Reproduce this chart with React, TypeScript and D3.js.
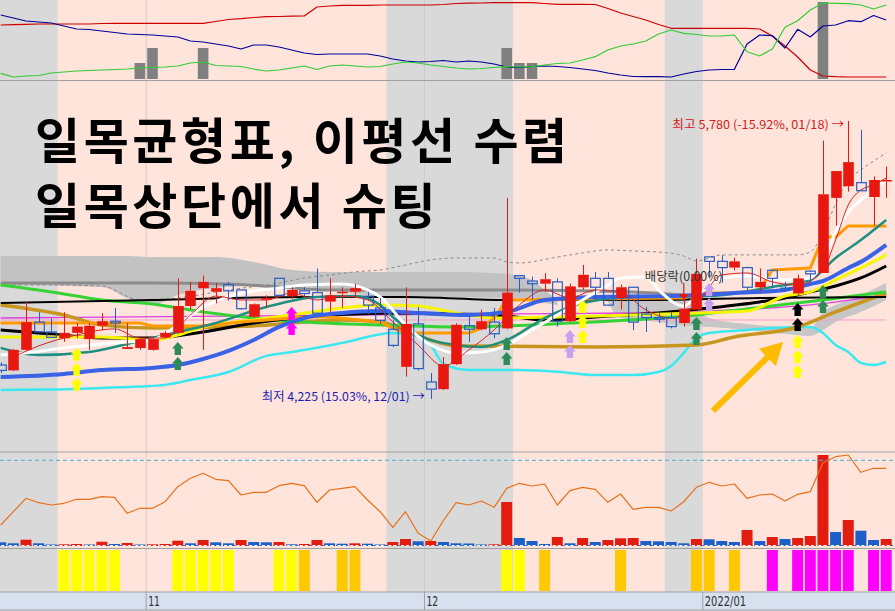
import React, { useEffect } from 'react';
import * as d3 from 'd3';

// ---------- data ----------
const monthLabels: [number, string][] = [[12, '11'], [34, '12'], [56, '2022/01']];
const shadeRanges: [number, number][] = [[0, 4], [31, 40], [53, 55]];

const opens = [4415,4385,4500,4655,4600,4565,4595,4560,4635,4660,4505,4510,4500,4570,4595,4745,4845,4825,4865,4835,4685,4780,4900,4800,4830,4820,4770,4820,4825,4800,4735,4615,4405,4645,4320,4280,4420,4635,4615,4655,4620,4915,4885,4870,4880,4660,4850,4900,4900,4790,4850,4700,4680,4680,4650,4725,5020,4995,4960,4960,4850,4945,4845,4815,4940,4930,5350,5415,5435,5355,5445];
const highs = [4430,4505,4770,4710,4675,4710,4650,4650,4705,4735,4650,4570,4565,4605,4900,4880,4915,4875,4880,4835,4760,4805,4900,4850,4850,4955,4900,4850,4870,4825,4790,4665,4850,4740,4370,4460,4650,4685,4725,4735,5350,4915,4910,4930,4900,4870,4975,4935,4935,4865,4850,4740,4705,4710,4795,5010,5020,5030,5015,4965,4955,4945,4880,4920,4945,5670,5500,5780,5730,5470,5525];
const lows = [4370,4380,4495,4600,4570,4545,4565,4500,4610,4595,4505,4500,4495,4565,4590,4725,4500,4760,4775,4725,4680,4735,4800,4785,4800,4700,4710,4735,4795,4700,4645,4515,4350,4385,4225,4275,4415,4545,4610,4565,4615,4820,4780,4825,4630,4655,4835,4780,4745,4725,4610,4600,4650,4620,4630,4725,4900,4875,4945,4835,4825,4845,4835,4805,4875,4930,5195,5385,5390,5195,5350];
const closes = [4385,4500,4655,4600,4570,4595,4630,4635,4660,4650,4515,4560,4560,4595,4745,4830,4880,4845,4830,4730,4755,4790,4805,4835,4815,4705,4805,4825,4845,4750,4665,4525,4645,4395,4280,4420,4640,4615,4660,4590,4820,4900,4870,4895,4660,4855,4920,4850,4750,4850,4655,4680,4675,4630,4730,4925,4995,4960,4995,4850,4880,4900,4840,4900,4925,5370,5500,5550,5390,5450,5450];

// volume (10k shares)
const volumes = [37,27,63,27,7,17,20,7,43,20,30,7,17,20,53,27,60,37,27,60,40,37,40,17,20,60,27,23,27,23,13,40,70,47,50,40,27,25,7,17,440,80,50,20,90,27,80,40,60,77,80,50,47,40,27,70,67,50,40,160,50,90,70,80,100,910,140,260,153,60,70];
// volume ratio indicator
const volRatio = [21,34.3,47.7,43.3,41,42.7,46.7,46.7,49.3,48.7,32.7,37.7,37.7,44.3,59.3,67.7,72.7,66.7,65.3,51,53.7,53.7,60.3,62.7,60.3,43.7,56,57.7,59.3,46,34.3,18.7,34.3,12.7,5,25.5,43.3,41,45,38.7,57.7,62.7,60,62,41,55.3,58.7,56.7,43.7,52,36.7,38.7,38.7,35,44.3,58.7,63.7,60,62,47.7,51,52,45,51.7,54.3,83.3,89.3,91,73.7,77.7,77.7];
const ratioLevel = 85.7;

// top indicator panel
const topRed = [55,55.3,55.7,56,56,56,56,56,56.5,56.7,56.7,56.7,56.7,56.7,56.7,56.7,56.7,58.5,60.5,61.3,62.5,63.3,63.5,63.8,64,73,74,74.7,74.7,74.7,75,75,75,75,75,75.5,76.5,76.8,77,77.3,77.3,77.3,77.3,76.5,75.7,75.7,75.7,75.5,71.5,67,63.5,60,55.5,51.7,51.7,51.7,51.7,51.7,51.7,51.7,51,44,34,23,10,4,3.3,3,3,3,3];
const topBlue = [65,62,59,58,57,54,51,50.5,49,47.5,46,45.5,45,44,43,39,38,36,34,31,35,35,33,30,27,25.5,26,26,26,26,24,21,19,18,18.5,19.5,18,19,18,16,13,12.5,13.5,14,13.5,12.5,11,9.5,7,5,3.5,3.3,3.3,3,6,8.5,10,10.5,10.7,36,45,44.3,32,50.7,43,54,55,59.3,58.3,64.5,60];
const topGreen = [6.7,3,4,4.5,7,8,9,9.5,10,10.5,11,12,12.5,13,14,17,18,14.5,14,13.5,11,9,10,12,14,10.5,14,15,14,13,13.5,16,18,17,15,13.5,12,11,11.5,12.5,13.3,13,13.3,15,16.5,17,20,23.3,30,34,36,39,46,50,46.7,45.5,44,44,45,28.3,24,31,52.7,59.3,70,77,76.7,76.3,75,71,75];
const topBars: [number, number][] = [[11,17],[12,32],[16,32],[40,32],[41,17],[42,17],[65,78]];

// signal panel
const signalYellow = [5,6,7,8,9,14,15,16,17,18,22,23,40,41];
const signalGold = [24,27,28,43,49,55,56,58];
const signalMagenta = [61,63,64,65,66,67,69,70];

// main panel lines [barIndex, price]
const bbUpper: [number, number][] = [[0,4863],[4,4863],[8,4857],[11,4779],[14,4790],[18,4835],[22,4874],[24,4902],[26,4919],[28,4936],[30,4947],[32,4975],[34,5003],[36,5014],[39,5014],[40,4992],[41,4986],[44,5019],[46,5042],[48,5059],[50,5053],[52,5047],[54,5025],[55,4997],[57,5031],[63,5031],[64,5047],[65,5154],[66,5316],[67,5450],[68,5506],[69,5556],[70,5601]];
const bbLower: [number, number][] = [[0,4276],[4,4278],[8,4287],[11,4295],[13,4304],[15,4331],[18,4376],[21,4466],[23,4488],[27,4539],[31,4594],[33,4578],[34,4527],[35,4421],[37,4387],[41,4387],[44,4378],[47,4359],[50,4359],[52,4376],[53,4410],[54,4483],[55,4566],[56,4594],[59,4611],[63,4628],[64,4628],[65,4594],[66,4527],[67,4488],[68,4427],[69,4415],[70,4432]];
const maBlue: [number, number][] = [[0,4348],[5,4365],[8,4387],[12,4399],[14,4415],[16,4449],[18,4494],[20,4555],[22,4628],[24,4678],[27,4706],[30,4717],[33,4706],[37,4695],[40,4712],[43,4779],[47,4796],[53,4801],[58,4818],[62,4835],[64,4868],[65,4885],[67,4958],[68,4992],[70,5087]];
const maYellow: [number, number][] = [[0,4572],[8,4572],[12,4555],[14,4583],[16,4628],[20,4667],[24,4706],[27,4734],[30,4751],[33,4745],[36,4706],[39,4678],[44,4684],[48,4690],[55,4706],[59,4717],[62,4801],[64,4824],[66,4891],[68,4958],[70,5031]];
const maBlack: [number, number][] = [[0,4611],[4,4589],[8,4566],[12,4566],[16,4600],[20,4650],[24,4684],[28,4701],[32,4706],[36,4701],[40,4690],[43,4667],[47,4684],[52,4706],[56,4734],[60,4768],[62,4790],[64,4824],[66,4857],[68,4902],[70,4969]];
const blackFlat: [number, number][] = [[0,4762],[12,4779],[24,4796],[32,4796],[40,4779],[50,4779],[60,4790],[70,4796]];
const grayLine: [number, number][] = [[0,4874],[12,4874],[18,4868],[22,4852],[26,4835],[40,4835],[50,4824],[54,4807]];
const tenkan: [number, number][] = [[0,4650],[11,4650],[12,4634],[16,4634],[19,4656],[21,4667],[24,4684],[26,4684],[30,4656],[31,4622],[32,4594],[37,4594],[38,4622],[39,4678],[40,4779],[53,4790],[54,4790],[55,4818],[58,4818],[60,4835],[61,4947],[64,4958],[65,5131],[66,5131],[67,5193],[70,5193]];
const kijun: [number, number][] = [[0,4751],[5,4695],[8,4639],[12,4622],[20,4634],[24,4656],[27,4667],[30,4656],[32,4611],[34,4555],[36,4522],[47,4516],[55,4527],[58,4572],[63,4628],[66,4712],[70,4818]];
const maGreen: [number, number][] = [[0,4863],[4,4824],[8,4779],[12,4757],[16,4712],[20,4678],[24,4656],[30,4639],[36,4628],[45,4650],[55,4695],[59,4729],[65,4779],[70,4824]];
const maTeal: [number, number][] = [[0,4511],[3,4471],[7,4488],[10,4533],[13,4583],[17,4650],[21,4740],[25,4796],[28,4801],[30,4751],[31,4684],[33,4583],[36,4527],[38,4516],[40,4555],[43,4678],[46,4762],[50,4796],[56,4801],[61,4852],[64,4891],[66,5014],[68,5114],[70,5226]];
const maWhite: [number, number][] = [[0,4471],[2,4483],[5,4511],[8,4533],[10,4544],[12,4555],[14,4639],[16,4740],[18,4796],[20,4829],[22,4846],[24,4863],[27,4868],[29,4835],[30,4796],[32,4639],[34,4527],[36,4483],[38,4488],[40,4527],[42,4611],[44,4695],[46,4779],[48,4863],[49,4902],[51,4908],[52,4835],[54,4745],[55,4801],[57,4902],[59,4913],[62,4891],[64,4902],[65,4997],[66,5159],[67,5271],[68,5338],[69,5394],[70,5450]];
const maRed: [number, number][] = [[1,4460],[3,4522],[6,4583],[9,4617],[11,4566],[13,4566],[15,4695],[17,4801],[19,4779],[21,4779],[23,4818],[25,4779],[27,4801],[29,4779],[31,4656],[33,4527],[35,4410],[37,4499],[39,4611],[41,4751],[43,4835],[45,4790],[47,4835],[49,4824],[51,4723],[53,4678],[55,4751],[57,4919],[59,4930],[61,4880],[63,4863],[65,4947],[66,5114],[67,5310],[68,5394],[69,5422],[70,5461]];
const magentaLine: [number, number][] = [[0,4678],[20,4690],[40,4701],[50,4706],[58,4723],[64,4751],[70,4807]];
const pinkLine: [number, number][] = [[0,4667],[70,4667]];
const cloudLeft: [number, number, number][] = [[0,5025,4863],[8,5025,4852],[10,5025,4790],[12,5019,4751],[14,5019,4807],[17,5019,4846],[20,4992,4857],[23,4947,4857],[26,4936,4835],[30,4936,4801],[36,4936,4796],[40,4925,4790],[42,4891,4779],[43,4835,4762],[44,4779,4751]];
const cloudRight: [number, number, number][] = [[48,4779,4768],[49,4813,4678],[52,4801,4656],[54,4779,4634],[56,4678,4628],[59,4645,4611],[62,4628,4589],[64,4622,4578],[65,4712,4611],[66,4751,4656],[68,4807,4712],[70,4874,4779]];

const signalArrows = [
  { i: 6, color: '#ffff00', n: 3, top: 4511 },
  { i: 14, color: '#2e8b57', n: 2, top: 4544 },
  { i: 23, color: '#ff00ff', n: 2, top: 4740 },
  { i: 40, color: '#2e8b57', n: 2, top: 4572 },
  { i: 45, color: '#c8a0f0', n: 2, top: 4611 },
  { i: 46, color: '#ffff00', n: 3, top: 4779 },
  { i: 55, color: '#2e8b57', n: 2, top: 4684 },
  { i: 56, color: '#c8a0f0', n: 2, top: 4874 },
  { i: 63, color: '#000000', n: 2, top: 4762 },
  { i: 63, color: '#ffff00', n: 3, top: 4583 },
  { i: 65, color: '#2e8b57', n: 2, top: 4863 },
];

const hiIdx = 67, loIdx = 34, divIdx = 54;
const hiLabel = '최고 5,780 (-15.92%, 01/18) →';
const loLabel = '최저 4,225 (15.03%, 12/01) →';
const divLabel = '배당락(0.00%)';
const title1 = '일목균형표, 이평선 수렴';
const title2 = '일목상단에서 슈팅';
const bigArrow = { from: [56.3, 4158], to: [61.85, 4544] };

// ---------- chart ----------
const W = 895, H = 611;
const PINK = '#fee4db', GRAY = '#d9d9d9', SEP = '#a0a0a0';
const RED = '#e8170f', BLUE = '#2a5cc4';
const KR = "'Noto Sans CJK KR', 'Noto Sans', sans-serif";

export default function App() {
  useEffect(() => { document.body.style.margin = '0'; }, []);
  const n = closes.length;
  const x = d3.scaleLinear().domain([0, n - 1]).range([0.7, 886.2]);
  const yTop = d3.scaleLinear().domain([0, 80]).range([80, 0]);
  const yMain = d3.scaleLinear().domain([4225, 5780]).range([399, 121]);
  const yVol = d3.scaleLinear().domain([0, 910]).range([546, 455]);
  const yRatio = d3.scaleLinear().domain([0, 94]).range([546, 452]);

  const topLine = d3.line<number>().x((_, i) => x(i)).y(d => yTop(d));
  const ratioLine = d3.line<number>().x((_, i) => x(i)).y(d => yRatio(d));
  const pLine = (curve: any) => d3.line<[number, number]>().x(d => x(d[0])).y(d => yMain(d[1])).curve(curve);
  const smooth = pLine(d3.curveMonotoneX);
  const straight = pLine(d3.curveLinear);
  const cloud = d3.area<[number, number, number]>().x(d => x(d[0])).y0(d => yMain(d[2])).y1(d => yMain(d[1])).curve(d3.curveMonotoneX);

  const bound = (i: number) => (x(i - 1) + x(i)) / 2;
  const half = 5.3;

  const arrowPath = (cx: number, top: number) =>
    `M${cx},${top} L${cx + 5.8},${top + 6.5} L${cx + 3.2},${top + 6.5} L${cx + 3.2},${top + 13} L${cx - 3.2},${top + 13} L${cx - 3.2},${top + 6.5} L${cx - 5.8},${top + 6.5} Z`;

  // big arrow geometry
  const bx0 = x(bigArrow.from[0]), by0 = yMain(bigArrow.from[1]);
  const bx1 = x(bigArrow.to[0]), by1 = yMain(bigArrow.to[1]);
  const len = Math.hypot(bx1 - bx0, by1 - by0);
  const ux = (bx1 - bx0) / len, uy = (by1 - by0) / len;
  const hl = 22, hw = 12;
  const bcx = bx1 - ux * hl, bcy = by1 - uy * hl;
  const head = `M${bx1},${by1} L${bcx - uy * hw},${bcy + ux * hw} L${bcx + uy * hw},${bcy - ux * hw} Z`;

  const lineStyle = (d: string, color: string, w: number, extra: any = {}) => (
    <path d={d} fill="none" stroke={color} strokeWidth={w} strokeLinejoin="round" {...extra} />
  );

  return (
    <svg width={W} height={H} style={{ position: 'absolute', left: 0, top: 0, display: 'block' }} xmlns="http://www.w3.org/2000/svg">
      <defs>
        <clipPath id="mainClip"><rect x={0} y={81} width={893} height={370} /></clipPath>
        <clipPath id="topClip"><rect x={0} y={0} width={893} height={80} /></clipPath>
      </defs>
      {/* backgrounds */}
      <rect x={0} y={0} width={W} height={592} fill={PINK} />
      {shadeRanges.map(([a, b], k) => (
        <rect key={k} x={Math.max(0, bound(a))} y={0} width={bound(b + 1) - Math.max(0, bound(a))} height={592} fill={GRAY} />
      ))}
      {/* month grid lines */}
      {monthLabels.slice(0, 2).map(([i], k) => (
        <line key={k} x1={bound(i)} x2={bound(i)} y1={0} y2={592} stroke="#cdcdcd" strokeWidth={1} />
      ))}

      {/* ---- top panel ---- */}
      <g clipPath="url(#topClip)">
        {topBars.map(([i, v], k) => (
          <rect key={k} x={x(i) - half} y={yTop(v)} width={half * 2} height={yTop(1) - yTop(v)} fill="#808080" />
        ))}
        {lineStyle(topLine(topRed)!, '#cc0000', 1.2)}
        {lineStyle(topLine(topBlue)!, '#000099', 1.2)}
        {lineStyle(topLine(topGreen)!, '#33cc33', 1.2)}
      </g>
      <line x1={0} x2={W} y1={80.5} y2={80.5} stroke={SEP} />

      {/* ---- main panel ---- */}
      <g clipPath="url(#mainClip)">
        <path d={cloud(cloudLeft)!} fill="#c2c2c2" />
        <path d={cloud(cloudRight)!} fill="#c6c6c6" />
        {lineStyle(smooth(pinkLine)!, '#ff9ccf', 1)}
        {lineStyle(smooth(magentaLine)!, '#e040e0', 1.3)}
        {lineStyle(smooth(grayLine)!, '#8c8c8c', 3)}
        {lineStyle(smooth(bbUpper)!, '#8a8a8a', 1, { strokeDasharray: '3 3' })}
        {lineStyle(smooth(bbLower)!, '#3ce8f0', 2.5)}
        {lineStyle(smooth(kijun)!, '#c8961e', 3.5)}
        {lineStyle(smooth(maGreen)!, '#36d236', 3)}
        {lineStyle(smooth(maBlack)!, '#000000', 3)}
        {lineStyle(smooth(blackFlat)!, '#000000', 2)}
        {lineStyle(smooth(maYellow)!, '#f6f600', 3)}
        {lineStyle(straight(tenkan)!, '#ff9a00', 3)}
        {lineStyle(smooth(maTeal)!, '#1f8f7f', 2.5)}
        {lineStyle(smooth(maBlue)!, '#3a62e6', 4)}
        {lineStyle(smooth(maWhite)!, '#ffffff', 3)}
        {lineStyle(smooth(maRed)!, '#e02020', 1)}

        {/* candles */}
        {closes.map((c, i) => {
          const o = opens[i];
          const up = c >= o;
          const cx = Math.round(x(i)) + 0.5;
          const yt = yMain(Math.max(o, c));
          const yb = yMain(Math.min(o, c));
          const yh = yMain(highs[i]);
          const yl = yMain(lows[i]);
          const col = up ? RED : BLUE;
          const bh = Math.max(1.5, yb - yt);
          return (
            <g key={i}>
              <line x1={cx} x2={cx} y1={yh} y2={yt} stroke={col} strokeWidth={1} />
              <line x1={cx} x2={cx} y1={yt + bh} y2={yl} stroke={col} strokeWidth={1} />
              {up ? (
                <rect x={cx - half} y={yt} width={half * 2} height={bh} fill={col} />
              ) : (
                <rect x={cx - half + 0.5} y={yt} width={half * 2 - 1} height={bh} fill="none" stroke={col} strokeWidth={1.2} />
              )}
            </g>
          );
        })}

        {/* signal arrows */}
        {signalArrows.map((a, k) => (
          <g key={k}>
            {d3.range(a.n).map(j => (
              <path key={j} d={arrowPath(x(a.i), yMain(a.top) + j * 15)} fill={a.color} />
            ))}
          </g>
        ))}

        {/* dividend marker */}
        <text x={x(divIdx)} y={yMain(highs[divIdx]) - 16} fontSize={12.5} fontFamily={KR} fill="#333" textAnchor="middle" textLength={78} lengthAdjust="spacingAndGlyphs">{divLabel}</text>
        <line x1={x(divIdx)} x2={x(divIdx)} y1={yMain(highs[divIdx]) - 14} y2={yMain(highs[divIdx]) - 2} stroke={RED} strokeWidth={1.2} />
        <path d={`M${x(divIdx) - 5},${yMain(highs[divIdx]) - 3} L${x(divIdx) + 5},${yMain(highs[divIdx]) - 3} L${x(divIdx)},${yMain(highs[divIdx]) + 3} Z`} fill={RED} />

        {/* high / low labels */}
        <text x={x(hiIdx) - 4} y={yMain(highs[hiIdx]) + 8} fontSize={12} fontFamily={KR} fill="#d41a1a" textAnchor="end" textLength={172} lengthAdjust="spacingAndGlyphs">{hiLabel}</text>
        <text x={x(loIdx) - 6} y={yMain(lows[loIdx]) + 1.5} fontSize={12} fontFamily={KR} fill="#1c1cb4" textAnchor="end" textLength={163} lengthAdjust="spacingAndGlyphs">{loLabel}</text>

        {/* big annotation arrow */}
        <line x1={bx0} y1={by0} x2={bcx + ux * 2} y2={bcy + uy * 2} stroke="#ffbb00" strokeWidth={6} />
        <path d={head} fill="#ffbb00" />

        {/* titles */}
        <text x={35} y={159} fontSize={49} fontWeight={700} fontFamily={KR} fill="#000" letterSpacing={3.6}>{title1}</text>
        <text x={35} y={224} fontSize={49} fontWeight={700} fontFamily={KR} fill="#000" letterSpacing={3.6}>{title2}</text>
      </g>
      <line x1={0} x2={W} y1={452} y2={452} stroke={SEP} />

      {/* ---- volume / ratio panel ---- */}
      <line x1={0} x2={893} y1={545.5} y2={545.5} stroke="#3a78d8" strokeDasharray="4 3" />
      {volumes.map((v, i) => {
        const up = i > 0 && v > volumes[i - 1];
        const yv = yVol(v);
        return (
          <g key={i}>
            <rect x={x(i) - 5.5} y={Math.min(yv, 544.5)} width={11} height={Math.max(1.5, 546 - yv)} fill={up ? '#e31c12' : '#1c5fc8'} />
            <line x1={x(i) - 4.5} x2={x(i) + 4.5} y1={545.5} y2={545.5} stroke="#ffffff" strokeDasharray="3 2" />
          </g>
        );
      })}
      <line x1={0} x2={893} y1={yRatio(ratioLevel)} y2={yRatio(ratioLevel)} stroke="#3fb0d8" strokeDasharray="4 3" />
      {lineStyle(ratioLine(volRatio)!, '#e8701a', 1.2)}
      <line x1={0} x2={W} y1={548.5} y2={548.5} stroke={SEP} />

      {/* ---- signal panel ---- */}
      {signalYellow.map(i => <rect key={'y' + i} x={x(i) - 5.5} y={550} width={11} height={41} fill="#ffff00" />)}
      {signalGold.map(i => <rect key={'g' + i} x={x(i) - 5.5} y={550} width={11} height={41} fill="#ffc800" />)}
      {signalMagenta.map(i => <rect key={'m' + i} x={x(i) - 5.5} y={550} width={11} height={41} fill="#ff00ff" />)}

      {/* ---- date axis ---- */}
      <rect x={0} y={592} width={W} height={19} fill="#d6e0ee" />
      <line x1={0} x2={W} y1={592} y2={592} stroke={SEP} />
      <line x1={0} x2={W} y1={610} y2={610} stroke={SEP} />
      {monthLabels.map(([i, label], k) => (
        <g key={k}>
          <line x1={bound(i)} x2={bound(i)} y1={592} y2={610} stroke={SEP} />
          <text x={bound(i) + 2} y={606} fontSize={14} fontFamily="'DejaVu Sans', sans-serif" fill="#333"
            textLength={label.length * 5.9} lengthAdjust="spacingAndGlyphs">{label}</text>
        </g>
      ))}
    </svg>
  );
}
